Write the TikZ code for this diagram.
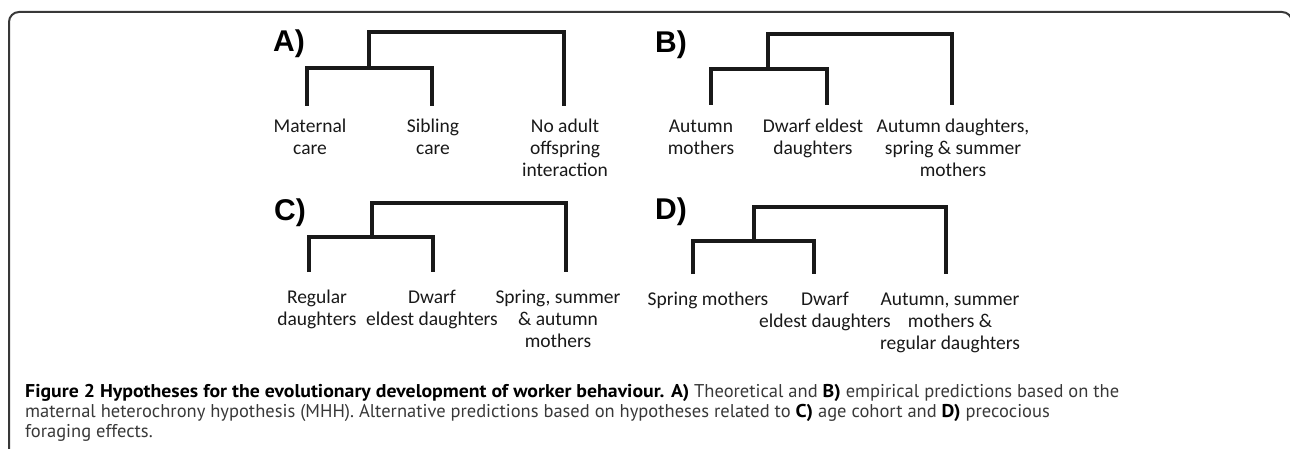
\documentclass[tikz,border=0pt]{standalone}
\usepackage{fontspec}
\setmainfont{Carlito}
\newfontfamily\panelfont{Liberation Sans}
\newfontfamily\capfont{PT Sans}[BoldFeatures={FakeStretch=1.07}]
\usetikzlibrary{positioning}

\begin{document}
\begin{tikzpicture}[
  x=1pt, y=-1pt,
  branch/.style={line width=4pt, black!90, line join=miter},
  leaflabel/.style={align=center, inner sep=0pt, anchor=base,
                    font=\fontsize{19.5}{22}\selectfont, text=black!90},
  panel/.style={anchor=base west, inner sep=0pt,
                font=\panelfont\bfseries\fontsize{30}{32}\selectfont},
  capline/.style={anchor=base west, inner sep=0pt,
                  font=\capfont\fontsize{18.5}{20}\selectfont, text=black!78},
  frame/.style={line width=2pt, black!78, rounded corners=10pt}
]
\useasboundingbox (0,0) rectangle (1290,449);
\clip (0,0) rectangle (1290,449);

% Frame
\draw[frame] (9,470) -- (9,12) -- (1292,12) -- (1292,470);

% Panel A
\node[panel] (pA) at (273,52) {A)};
\coordinate (A1) at (307,106);
\coordinate (A2) at (432,106);
\coordinate (A3) at (564,106);
\coordinate (Ajoin) at (369,68);
\coordinate (Aroot) at (369,32);
\draw[branch] (A1) |- (Ajoin) -| (A2);
\draw[branch] (Ajoin) -- (Aroot) -| (A3);
\node[leaflabel] (Amat) at (310,155) {Maternal\\care};
\node[leaflabel] (Asib) at (433,155) {Sibling\\care};
\node[leaflabel] (Anone) at (565,177) {No adult\\offspring\\interaction};

% Panel B
\node[panel] (pB) at (655,53) {B)};
\coordinate (B1) at (711,105);
\coordinate (B2) at (827,105);
\coordinate (B3) at (952,105);
\coordinate (Bjoin) at (768,69);
\coordinate (Broot) at (768,34);
\draw[branch] (B1) |- (Bjoin) -| (B2);
\draw[branch] (Bjoin) -- (Broot) -| (B3);
\node[leaflabel] (Baut) at (701,155) {Autumn\\mothers};
\node[leaflabel] (Bdwarf) at (813,155) {Dwarf eldest\\daughters};
\node[leaflabel] (Brest) at (953,177) {Autumn daughters,\\spring \& summer\\mothers};

% Panel C
\node[panel] (pC) at (274,220) {C)};
\coordinate (C1) at (309,272);
\coordinate (C2) at (433,272);
\coordinate (C3) at (566,272);
\coordinate (Cjoin) at (372,237);
\coordinate (Croot) at (372,203);
\draw[branch] (C1) |- (Cjoin) -| (C2);
\draw[branch] (Cjoin) -- (Croot) -| (C3);
\node[leaflabel] (Creg) at (317,325) {Regular\\daughters};
\node[leaflabel] (Cdwarf) at (432,325) {Dwarf\\eldest daughters};
\node[leaflabel] (Crest) at (558,347) {Spring, summer\\\& autumn\\mothers};

% Panel D
\node[panel] (pD) at (655,219) {D)};
\coordinate (D1) at (693,274);
\coordinate (D2) at (814,274);
\coordinate (D3) at (946,274);
\coordinate (Djoin) at (754,241);
\coordinate (Droot) at (754,207);
\draw[branch] (D1) |- (Djoin) -| (D2);
\draw[branch] (Djoin) -- (Droot) -| (D3);
\node[leaflabel] (Dspr) at (708,305) {Spring mothers};
\node[leaflabel] (Ddwarf) at (825,327) {Dwarf\\eldest daughters};
\node[leaflabel] (Drest) at (950,349) {Autumn, summer\\mothers \&\\regular daughters};

% Caption
\node[capline] (cap1) at (25,397) {\textbf{\textcolor{black}{Figure 2 Hypotheses for the evolutionary development of worker behaviour. A)}} Theoretical and \textbf{\textcolor{black}{B)}} empirical predictions based on the};
\node[capline] (cap2) at (25,417) {maternal heterochrony hypothesis (MHH). Alternative predictions based on hypotheses related to \textbf{\textcolor{black}{C)}} age cohort and \textbf{\textcolor{black}{D)}} precocious};
\node[capline] (cap3) at (25,437) {foraging effects.};

\end{tikzpicture}
\end{document}
